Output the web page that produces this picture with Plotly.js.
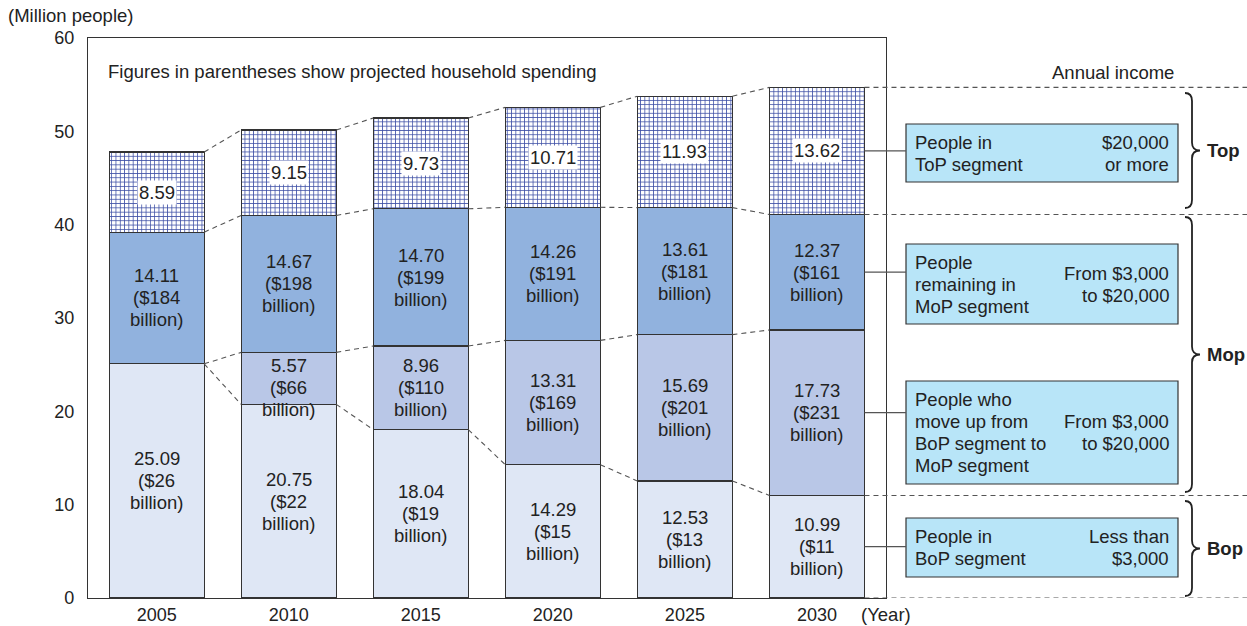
<!DOCTYPE html>
<html>
<head>
<meta charset="utf-8">
<script src="https://cdn.plot.ly/plotly-3.0.1.min.js"></script>
<style>html,body{margin:0;padding:0;background:#fff;}#chart{width:1247px;height:626px;}</style>
</head>
<body>
<div id="chart"></div>
<script>
// ---- data ----
const years = ['2005', '2010', '2015', '2020', '2025', '2030'];
const bopPeople = [25.09, 20.75, 18.04, 14.29, 12.53, 10.99];
const moveUpPeople = [0, 5.57, 8.96, 13.31, 15.69, 17.73];
const mopPeople = [14.11, 14.67, 14.70, 14.26, 13.61, 12.37];
const topPeople = [8.59, 9.15, 9.73, 10.71, 11.93, 13.62];
const bopSpend = [26, 22, 19, 15, 13, 11];
const moveUpSpend = [null, 66, 110, 169, 201, 231];
const mopSpend = [184, 198, 199, 191, 181, 161];
const yTicks = [0, 10, 20, 30, 40, 50, 60];

// ---- layout helpers ----
const W = 1247, H = 626;
const L = 88, R = 886, T = 38, B = 598;
const xr = [-0.52, 5.523];
const yMax = 60;
const barW = 0.72;
const FONT = 'Liberation Sans, Arial, Helvetica, sans-serif';
const TXT = '#222';
const FS = 18.5;
const LH = 22;
function pxX(p) { return (p - L) / (R - L); }
function pxY(p) { return (B - p) / (B - T); }
function idxPaper(v) { return (v - xr[0]) / (xr[1] - xr[0]); }
const pxPerUnit = (B - T) / yMax;

const lineStyle = { color: '#333', width: 1.2 };
const common = { type: 'bar', x: years, width: barW, hoverinfo: 'skip' };

const traces = [
  Object.assign({}, common, { name: 'BoP', y: bopPeople, marker: { color: '#dfe7f5', line: lineStyle } }),
  Object.assign({}, common, { name: 'Move up', y: moveUpPeople, marker: { color: '#b9c7e7', line: lineStyle } }),
  Object.assign({}, common, { name: 'MoP', y: mopPeople, marker: { color: '#91b2de', line: lineStyle } }),
  Object.assign({}, common, { name: 'ToP', y: topPeople,
    marker: { color: '#ffffff', line: lineStyle,
      pattern: { shape: '+', fgcolor: '#3e4fa6', bgcolor: '#ffffff', size: 4.3, solidity: 0.33, fillmode: 'replace' } } })
];

// cumulative boundaries
const series = [bopPeople, moveUpPeople, mopPeople, topPeople];
const spends = [bopSpend, moveUpSpend, mopSpend, null];
const cum = [];
let run = years.map(() => 0);
series.forEach(s => { run = run.map((r, i) => r + s[i]); cum.push(run.slice()); });

const shapes = [];
const annotations = [];
const dashStyle = { color: '#555', width: 1.1, dash: '5px,4px' };

function addLines(opts, lines, centerShift) {
  const n = lines.length;
  lines.forEach((t, j) => {
    const off = (j - (n - 1) / 2) * LH;
    annotations.push(Object.assign({ showarrow: false, text: t,
      font: { family: FONT, size: FS, color: TXT } }, opts, { yanchor: 'middle', yshift: -(off + (centerShift || 0)) }));
  });
}

// segment value labels (BoP, move-up, MoP)
for (let k = 0; k < 3; k++) {
  series[k].forEach((v, i) => {
    if (!(v > 0)) return;
    const lines = [v.toFixed(2), '($' + spends[k][i], 'billion)'];
    const lo = k === 0 ? 0 : cum[k - 1][i];
    const segPx = v * pxPerUnit;
    const blockPx = lines.length * LH;
    if (blockPx > segPx + 4) {
      // not enough room: hang text from the top of the segment
      addLines({ xref: 'x', yref: 'y', x: i, y: cum[k][i] }, lines, blockPx / 2 + 2);
    } else {
      addLines({ xref: 'x', yref: 'y', x: i, y: lo + v / 2 }, lines, 0);
    }
  });
}

// ToP value labels with white background
topPeople.forEach((v, i) => {
  annotations.push({ xref: 'x', yref: 'y', x: i, y: cum[2][i] + v / 2, text: v.toFixed(2),
    showarrow: false, bgcolor: '#ffffff', borderpad: 1,
    font: { family: FONT, size: FS, color: TXT } });
});

// dashed connectors between bars
cum.forEach(c => {
  for (let i = 0; i < years.length - 1; i++) {
    shapes.push({ type: 'line', xref: 'x', yref: 'y', x0: i + barW / 2, x1: i + 1 - barW / 2,
      y0: c[i], y1: c[i + 1], line: dashStyle, layer: 'above' });
  }
});

// right-hand horizontal dashed guides (from last bar)
const last = years.length - 1;
const lastRight = idxPaper(last + barW / 2);
[cum[3][last], cum[2][last], cum[0][last], 0].forEach(v => {
  shapes.push({ type: 'line', xref: 'paper', yref: 'y', x0: lastRight, x1: pxX(W), y0: v, y1: v,
    line: dashStyle, layer: 'above' });
});

// legend boxes
const boxL = 906, boxR = 1178;
const boxes = [
  { top: 124, bot: 182, seg: 3, left: ['People in', 'ToP segment'], right: ['$20,000', 'or more'] },
  { top: 244, bot: 324, seg: 2, left: ['People', 'remaining in', 'MoP segment'], right: ['From $3,000', 'to $20,000'] },
  { top: 381, bot: 484, seg: 1, left: ['People who', 'move up from', 'BoP segment to', 'MoP segment'], right: ['From $3,000', 'to $20,000'] },
  { top: 518, bot: 577, seg: 0, left: ['People in', 'BoP segment'], right: ['Less than', '$3,000'] }
];
boxes.forEach(b => {
  shapes.push({ type: 'rect', xref: 'paper', yref: 'paper', x0: pxX(boxL), x1: pxX(boxR),
    y0: pxY(b.bot), y1: pxY(b.top), fillcolor: '#b8e5f8', line: { color: '#333', width: 1.2 }, layer: 'above' });
  const lo = b.seg === 0 ? 0 : cum[b.seg - 1][last];
  const mid = lo + series[b.seg][last] / 2;
  shapes.push({ type: 'line', xref: 'paper', yref: 'y', x0: lastRight, x1: pxX(boxL), y0: mid, y1: mid,
    line: { color: '#555', width: 1.2 }, layer: 'above' });
  const cy = pxY((b.top + b.bot) / 2);
  addLines({ xref: 'paper', yref: 'paper', x: pxX(boxL + 7), y: cy, xanchor: 'left', align: 'left' }, b.left, 0);
  addLines({ xref: 'paper', yref: 'paper', x: pxX(boxR - 7), y: cy, xanchor: 'right', align: 'right' }, b.right, 0);
});

// braces
function brace(y1, y2) {
  const x0 = pxX(1185), x1 = pxX(1192), x2 = pxX(1200);
  const r = 8;
  const ym = (y1 + y2) / 2;
  const P = (x, y) => x + ',' + pxY(y);
  return 'M' + P(x0, y1) + ' Q' + P(x1, y1) + ' ' + P(x1, y1 + r) +
    ' L' + P(x1, ym - r) + ' Q' + P(x1, ym) + ' ' + P(x2, ym) +
    ' Q' + P(x1, ym) + ' ' + P(x1, ym + r) +
    ' L' + P(x1, y2 - r) + ' Q' + P(x1, y2) + ' ' + P(x0, y2);
}
const braceDefs = [
  { y1: 93, y2: 208, label: 'Top' },
  { y1: 217, y2: 492, label: 'Mop' },
  { y1: 501, y2: 596, label: 'Bop' }
];
braceDefs.forEach(d => {
  shapes.push({ type: 'path', xref: 'paper', yref: 'paper', path: brace(d.y1, d.y2),
    line: { color: '#222', width: 1.8 }, layer: 'above' });
  annotations.push({ xref: 'paper', yref: 'paper', x: pxX(1205), y: pxY((d.y1 + d.y2) / 2),
    xanchor: 'left', yanchor: 'middle', text: '<b>' + d.label + '</b>', showarrow: false,
    font: { family: FONT, size: FS, color: TXT } });
});

// other texts
annotations.push({ xref: 'paper', yref: 'paper', x: pxX(6), y: pxY(16), xanchor: 'left', yanchor: 'middle',
  text: '(Million people)', showarrow: false, font: { family: FONT, size: FS, color: TXT } });
annotations.push({ xref: 'paper', yref: 'paper', x: pxX(106), y: pxY(71), xanchor: 'left', yanchor: 'middle',
  text: 'Figures in parentheses show projected household spending', showarrow: false,
  font: { family: FONT, size: FS, color: TXT } });
annotations.push({ xref: 'paper', yref: 'paper', x: pxX(1176), y: pxY(72), xanchor: 'right', yanchor: 'middle',
  text: 'Annual income', showarrow: false, font: { family: FONT, size: FS, color: TXT } });
annotations.push({ xref: 'paper', yref: 'paper', x: pxX(859), y: pxY(614), xanchor: 'left', yanchor: 'middle',
  text: '(Year)', showarrow: false, font: { family: FONT, size: FS, color: TXT } });

const layout = {
  width: W, height: H,
  margin: { l: L, r: W - R, t: T, b: H - B, pad: 0 },
  paper_bgcolor: '#fff', plot_bgcolor: '#fff',
  barmode: 'stack', showlegend: false,
  font: { family: FONT, color: TXT },
  xaxis: { type: 'category', range: xr, showline: true, mirror: true, linecolor: '#333', linewidth: 1.2,
    ticks: '', showgrid: false, zeroline: false, tickfont: { family: FONT, size: 18, color: TXT },
    fixedrange: true },
  yaxis: { range: [0, yMax], tickvals: yTicks, showline: true, mirror: true, linecolor: '#333', linewidth: 1.2,
    ticks: '', showgrid: false, zeroline: false, ticklabelstandoff: 9,
    tickfont: { family: FONT, size: 18, color: TXT }, fixedrange: true },
  shapes: shapes, annotations: annotations
};

Plotly.newPlot('chart', traces, layout, { staticPlot: true, displayModeBar: false });
</script>
</body>
</html>
